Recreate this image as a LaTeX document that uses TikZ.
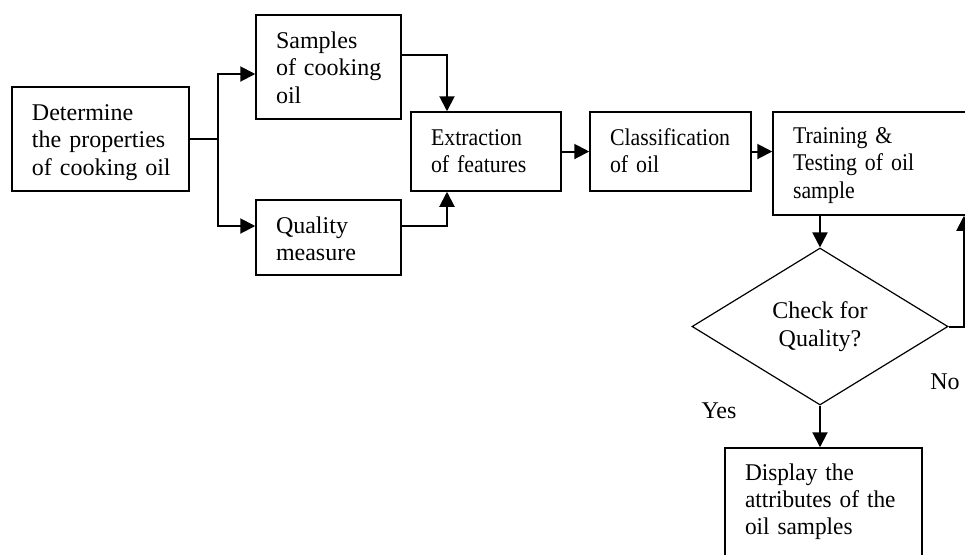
\documentclass[tikz,border=0pt]{standalone}
\usepackage{fontspec}
\setmainfont{Liberation Serif}
\newfontfamily\slimfont[FakeStretch=0.91]{Liberation Serif}
\newfontfamily\trimfont[FakeStretch=0.97]{Liberation Serif}
\usetikzlibrary{arrows.meta, positioning, shapes.geometric}

\begin{document}
\begin{tikzpicture}[
    x=0.5pt, y=-0.5pt,
    block/.style={draw, line width=0.75pt,
                  inner xsep=10pt, inner ysep=0pt, text height=16.5pt,
                  execute at begin node={\raggedright\rightskip=-10pt plus 1fil\relax},
                  font=\fontsize{12}{13.8}\selectfont},
    slim/.style={font=\slimfont\fontsize{12}{13.8}\selectfont},
    trim/.style={font=\trimfont\fontsize{12}{13.6}\selectfont},
    cond/.style={draw, diamond, line width=0.6pt, aspect=1.63,
                 inner sep=0pt, align=center,
                 minimum width=128pt, minimum height=78.5pt,
                 font=\fontsize{12}{13.8}\selectfont},
    lab/.style={font=\fontsize{12}{13.8}\selectfont},
    arr/.style={line width=1pt, -{Triangle[length=7.5pt, width=7.5pt]}},
    link/.style={line width=0.9pt}
  ]
  \useasboundingbox (0,0) rectangle (965,554);
  \clip (0,0) rectangle (965,554);

  % input side
  \node[block, text width=68.5pt, text depth=35.5pt]
    (det) at (100.5,139) {Determine\\the properties\\of cooking oil};
  \node[block, text width=52.5pt, text depth=35.5pt]
    (samp) at (328.5,67) {Samples\\of cooking\\oil};
  \node[block, text width=52.5pt, text depth=21pt]
    (qual) at (328.5,237.5) {Quality\\measure};

  % main row
  \node[block, slim, text width=55pt, text depth=23pt]
    (extr) at (486,151.5) {Extraction\\of features};
  \node[block, slim, text width=60.5pt, text depth=23pt]
    (cls) at (670.5,151.5) {Classification\\of oil};
  \node[block, slim, text width=81pt, text height=15.5pt, text depth=36pt]
    (train) at (874,163.5) {Training \&\\Testing of oil\\sample};

  % decision
  \node[cond] (chk) at (820,326.5) {Check for\\Quality?};
  \node[block, trim, text width=78.5pt, text height=16pt, text depth=41pt]
    (disp) at (823.5,505) {Display the\\attributes of the\\oil samples};
  \node[lab] (yes) at (719,411) {Yes};
  \node[lab] (no) at (945,382) {No};

  \coordinate (split) at (218,139);
  \coordinate (back) at (964,326.5);

  % connectors
  \draw[link] (det.east) -- (split);
  \draw[arr] (split) |- ([yshift=-3.5pt]samp.west);
  \draw[arr] (split) |- ([yshift=5.75pt]qual.west);
  \draw[arr] ([yshift=6pt]samp.east) -| ([xshift=-19.5pt]extr.north);
  \draw[arr] ([yshift=5.75pt]qual.east) -| ([xshift=-19.5pt]extr.south);
  \draw[arr] (extr.east) -- (cls.west);
  \draw[arr] (cls.east) -- (cls.east -| train.west);
  \draw[arr] (chk.north |- train.south) -- (chk.north);
  \draw[arr] (chk.south) -- (chk.south |- disp.north);
  \draw[arr] (chk.east) -- (back) -- (back |- train.south);
\end{tikzpicture}
\end{document}
